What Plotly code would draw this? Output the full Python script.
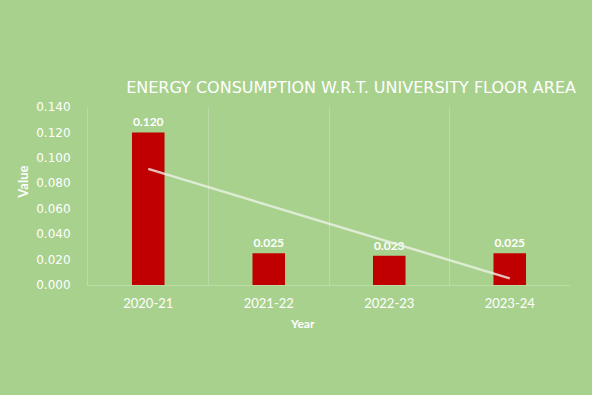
import numpy as np
import plotly.graph_objects as go

years = ["2020-21", "2021-22", "2022-23", "2023-24"]
values = [0.120, 0.025, 0.023, 0.025]
y_ticks = [0.000, 0.020, 0.040, 0.060, 0.080, 0.100, 0.120, 0.140]

BG = "#A9D18E"
GRID = "#BCDBA8"

# linear trendline fitted to the values
xi = np.arange(len(values))
slope, intercept = np.polyfit(xi, values, 1)
trend = slope * xi + intercept

fig = go.Figure()
fig.add_trace(go.Bar(
    x=years, y=values, marker=dict(color="#C00000", line=dict(width=0)),
    width=0.27, text=[f"{v:.3f}" for v in values], textposition="outside",
    textfont=dict(family="Lato", size=12, color="white", weight="bold"),
    cliponaxis=False, showlegend=False, hoverinfo="skip",
))
fig.add_trace(go.Scatter(
    x=years, y=trend, mode="lines",
    line=dict(color="rgba(235,242,230,0.8)", width=2.5), showlegend=False,
    hoverinfo="skip",
))

fig.update_layout(
    width=592, height=395,
    paper_bgcolor=BG, plot_bgcolor=BG,
    margin=dict(l=88, r=22, t=107, b=110),
    bargap=0.73,
    title=dict(text="ENERGY CONSUMPTION W.R.T. UNIVERSITY FLOOR AREA",
               x=0.593, xanchor="center", y=0.778, yanchor="middle",
               font=dict(family="DejaVu Sans", size=16, color="white")),
    annotations=[
        dict(text="<b>Value</b>", xref="paper", yref="paper", x=-0.135, y=0.58,
             xanchor="center", yanchor="middle", textangle=-90, showarrow=False,
             font=dict(family="Lato", size=13, color="white")),
        dict(text="<b>Year</b>", xref="paper", yref="paper", x=0.444, y=-0.215,
             xanchor="center", yanchor="middle", showarrow=False,
             font=dict(family="Lato", size=12, color="white")),
    ],
)
fig.update_xaxes(
    type="category", tickson="boundaries", showgrid=True, gridcolor=GRID, gridwidth=1,
    showline=True, linecolor=GRID, linewidth=1, ticks="", zeroline=False,
    tickfont=dict(family="Lato", size=13, color="white"), ticklabelstandoff=6,
    range=[-0.5, 3.5],
)
fig.update_yaxes(
    range=[0, 0.14], tickvals=y_ticks, ticktext=[f"{v:.3f}" for v in y_ticks],
    showgrid=False, zeroline=False, showline=True, linecolor=GRID, linewidth=1,
    tickfont=dict(family="DejaVu Sans", size=12, color="white"), ticks="",
    ticklabelstandoff=14,
)

fig.write_html(
    "out.html",
    config={"displayModeBar": False},
    post_script="document.body.style.margin='0';document.body.style.padding='0';",
)
